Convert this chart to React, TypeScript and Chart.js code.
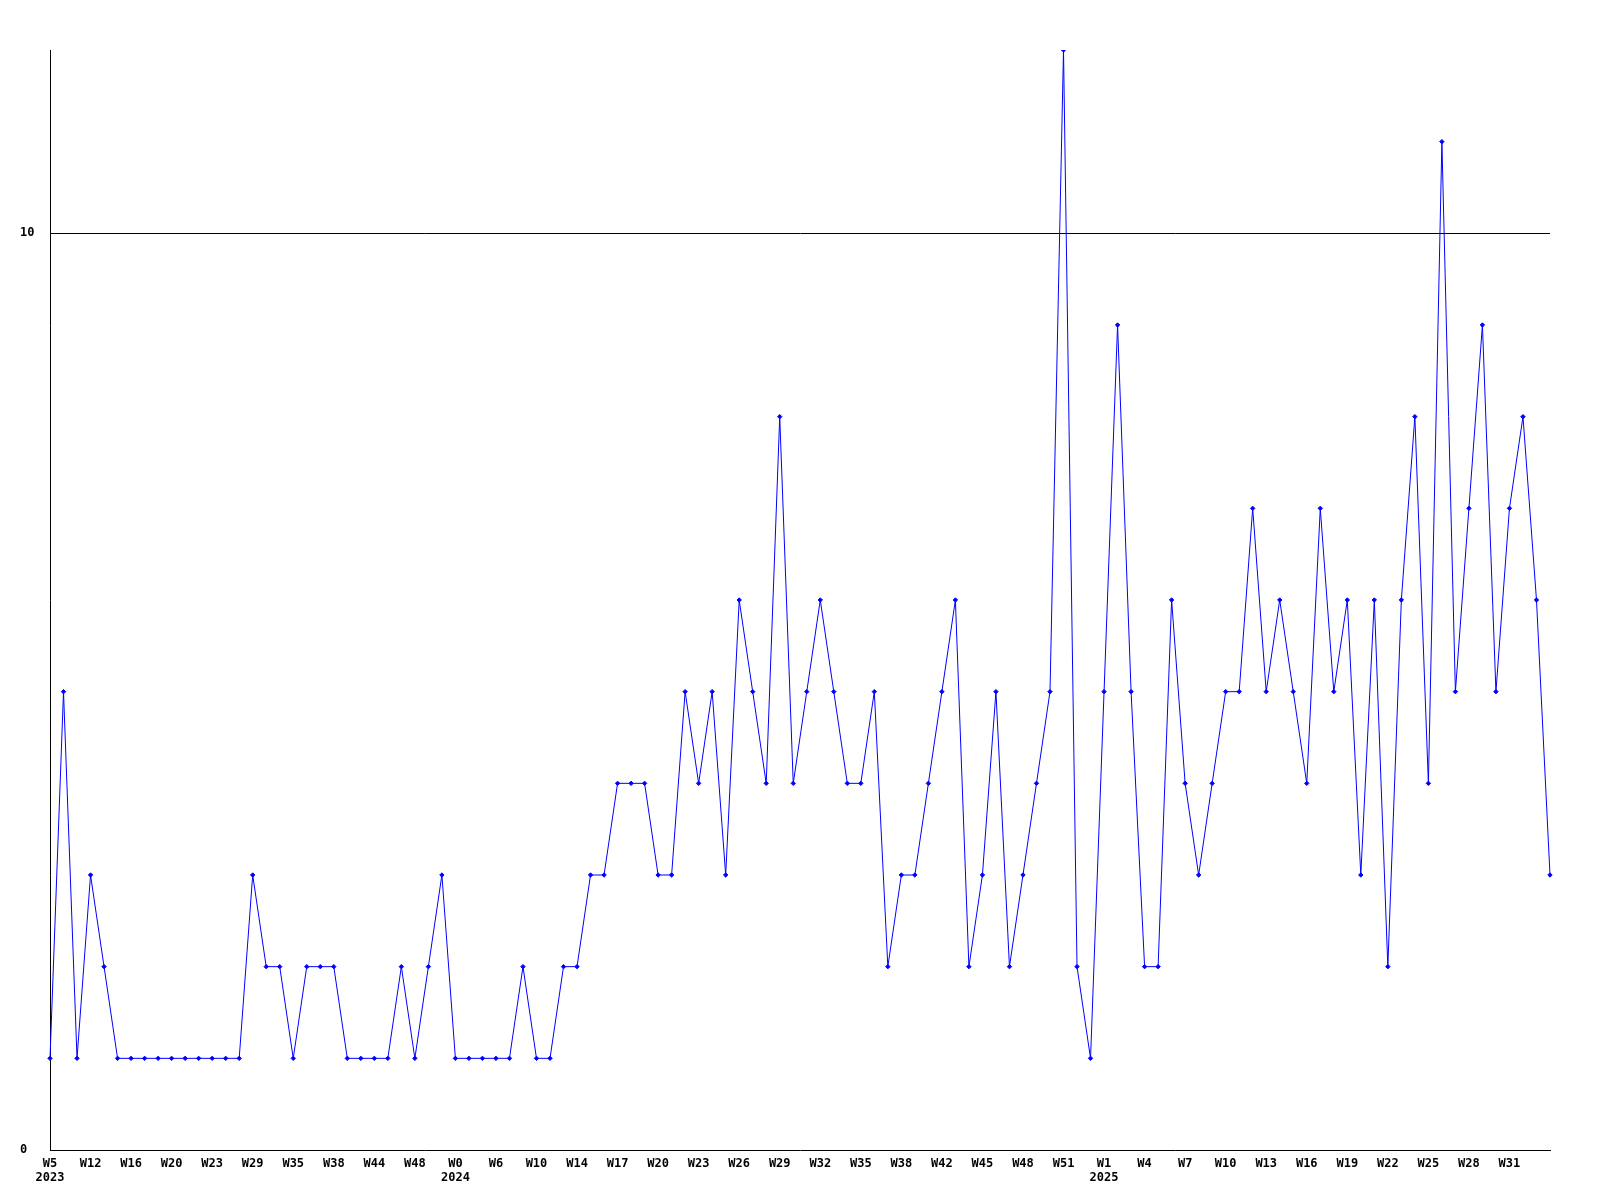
import React, { useEffect, useRef } from "react";
import { Chart, registerables } from "chart.js";

Chart.register(...registerables);

const weekLabels = [
  "W5","W7","W10","W12","W13","W15","W16","W17","W18","W20",
  "W21","W22","W23","W25","W27","W29","W31","W33","W35","W36",
  "W37","W38","W40","W42","W44","W45","W47","W48","W50","W51",
  "W0","W2","W4","W6","W7","W9","W10","W11","W13","W14",
  "W15","W16","W17","W18","W19","W20","W21","W22","W23","W24",
  "W25","W26","W27","W28","W29","W30","W31","W32","W33","W34",
  "W35","W36","W37","W38","W39","W41","W42","W43","W44","W45",
  "W46","W47","W48","W49","W50","W51","W52","W0","W1","W2",
  "W3","W4","W5","W6","W7","W8","W9","W10","W11","W12",
  "W13","W14","W15","W16","W17","W18","W19","W20","W21","W22",
  "W23","W24","W25","W26","W27","W28","W29","W30","W31","W32",
  "W33","W34",
];

const yearIndices = [0, 30, 78];
const yearNames = ["2023", "2024", "2025"];

const counts = [
  1, 5, 1, 3, 2, 1, 1, 1, 1, 1, 1, 1, 1, 1, 1,
  3, 2, 2, 1, 2, 2, 2, 1, 1, 1, 1, 2, 1, 2, 3,
  1, 1, 1, 1, 1, 2, 1, 1, 2, 2, 3, 3, 4, 4, 4,
  3, 3, 5, 4, 5, 3, 6, 5, 4, 8, 4, 5, 6, 5, 4,
  4, 5, 2, 3, 3, 4, 5, 6, 2, 3, 5, 2, 3, 4, 5,
  12, 2, 1, 5, 9, 5, 2, 2, 6, 4, 3, 4, 5, 5, 7,
  5, 6, 5, 4, 7, 5, 6, 3, 6, 2, 6, 8, 4, 11, 5,
  7, 9, 5, 7, 8, 6, 3,
];

const yTicks = [0, 10];
const yMax = 12;
const labelEvery = 3;

export default function App() {
  const ref = useRef<HTMLCanvasElement | null>(null);

  useEffect(() => {
    if (!ref.current) return;
    const font = { family: "'DejaVu Sans Mono', monospace", size: 12, weight: "bold" as const, lineHeight: 1.17 };
    const chart = new Chart(ref.current, {
      type: "line",
      data: {
        labels: weekLabels,
        datasets: [
          {
            data: counts,
            borderColor: "#0000ff",
            backgroundColor: "#0000ff",
            borderWidth: 1,
            pointStyle: "rectRot",
            pointRadius: 2.2,
            pointBorderWidth: 1,
            pointBackgroundColor: "#0000ff",
            pointBorderColor: "#0000ff",
            tension: 0,
            fill: false,
          },
        ],
      },
      options: {
        animation: false,
        responsive: false,
        maintainAspectRatio: false,
        layout: { padding: { left: 20, top: 50, right: 50, bottom: 0 } },
        plugins: { legend: { display: false }, tooltip: { enabled: false } },
        scales: {
          x: {
            type: "category",
            offset: false,
            afterFit: (s: any) => { s.height = 50; },
            grid: { display: false, drawTicks: false },
            border: { display: true, color: "#000", width: 1 },
            ticks: {
              autoSkip: false,
              maxRotation: 0,
              minRotation: 0,
              padding: 7,
              color: "#000",
              font,
              callback: (_v: any, i: number) => {
                if (i % labelEvery !== 0 || i >= weekLabels.length - 1) return "";
                const yi = yearIndices.indexOf(i);
                return yi >= 0 ? [weekLabels[i], yearNames[yi]] : weekLabels[i];
              },
            },
          },
          y: {
            min: 0,
            max: yMax,
            afterFit: (s: any) => { s.width = 30; },
            afterBuildTicks: (s: any) => { s.ticks = yTicks.map((v) => ({ value: v })); },
            grid: {
              drawTicks: false,
              color: (ctx: any) => (ctx.tick && ctx.tick.value === 10 ? "#000" : "rgba(0,0,0,0)"),
              lineWidth: 1,
            },
            border: { display: true, color: "#000", width: 1 },
            ticks: {
              crossAlign: "far",
              color: "#000",
              font,
              callback: (v: any) => String(v),
            },
          },
        },
      },
    });
    return () => chart.destroy();
  }, []);

  return (
    <div style={{ position: "absolute", left: 0, top: 0, width: 1600, height: 1200, background: "#fff" }}>
      <canvas ref={ref} width={1600} height={1200} style={{ width: 1600, height: 1200 }} />
    </div>
  );
}
